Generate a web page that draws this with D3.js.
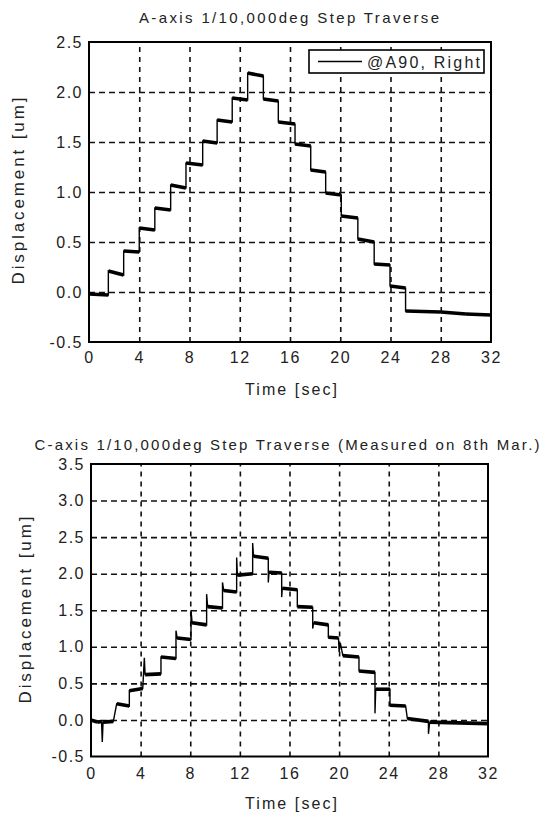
<!DOCTYPE html>
<html>
<head>
<meta charset="utf-8">
<script src="https://cdn.jsdelivr.net/npm/d3@7"></script>
<style>
  body { margin: 0; background: #fff; }
  text { font-family: "Liberation Sans", Arial, sans-serif; fill: #222; }
</style>
</head>
<body>
<div id="chart-area"></div>
<script>
// A-axis trace, corner points of the step curve (time [sec], displacement [um])
var timeA = [0, 1.54, 1.54, 2.76, 2.76, 4.0, 4.0, 5.24, 5.24, 6.5, 6.5, 7.72, 7.72, 9.05, 9.05,
    10.2, 10.2, 11.4, 11.4, 12.63, 12.63, 13.88, 13.88, 15.07, 15.07, 16.4, 16.4, 17.65, 17.65,
    18.84, 18.84, 20.08, 20.08, 21.4, 21.4, 22.7, 22.7, 23.96, 23.96, 25.2, 25.2, 28, 30, 32];
var dispA = [-0.02, -0.03, 0.21, 0.17, 0.41, 0.40, 0.64, 0.62, 0.84, 0.82, 1.07, 1.04, 1.29, 1.27, 1.51,
    1.49, 1.72, 1.70, 1.94, 1.92, 2.19, 2.16, 1.93, 1.91, 1.70, 1.68, 1.48, 1.46, 1.22,
    1.20, 0.99, 0.97, 0.76, 0.74, 0.53, 0.50, 0.28, 0.27, 0.06, 0.04, -0.19, -0.20, -0.22, -0.23];

// C-axis trace, with the spikes seen at the steps
var timeC = [0, 0.5, 0.85, 0.91, 0.97, 1.8, 2.07, 3.09, 3.09, 4.17, 4.2, 4.3, 4.36, 5.64, 5.64,
    6.85, 6.85, 6.95, 8.06, 8.06, 8.15, 9.32, 9.32, 9.4, 10.6, 10.6, 10.7, 11.74, 11.74, 11.8,
    13.03, 13.03, 13.1, 14.29, 14.29, 14.35, 15.37, 15.37, 15.42, 16.63, 16.63, 17.87, 17.87,
    17.95, 19.13, 19.13, 19.95, 20.0, 20.1, 20.3, 21.6, 21.6, 22.89, 22.89, 22.95, 24.1, 24.1,
    25.36, 25.5, 27.2, 27.2, 27.3, 32];
var dispC = [0.0, -0.03, -0.02, -0.30, -0.03, -0.02, 0.22, 0.19, 0.40, 0.43, 0.52, 0.85, 0.62, 0.63, 0.86,
    0.84, 1.22, 1.12, 1.10, 1.50, 1.33, 1.30, 1.72, 1.55, 1.53, 1.88, 1.77, 1.75, 2.22, 1.98,
    2.00, 2.42, 2.24, 2.21, 1.88, 2.02, 2.01, 1.68, 1.80, 1.78, 1.55, 1.54, 1.25,
    1.33, 1.30, 1.13, 1.12, 0.93, 1.05, 0.88, 0.86, 0.67, 0.65, 0.09, 0.42, 0.42, 0.20,
    0.19, 0.02, -0.02, -0.19, -0.03, -0.05];

var xTicks = [0, 4, 8, 12, 16, 20, 24, 28, 32];
var yTicksA = [-0.5, 0.0, 0.5, 1.0, 1.5, 2.0, 2.5];
var yTicksC = [-0.5, 0.0, 0.5, 1.0, 1.5, 2.0, 2.5, 3.0, 3.5];

var svg = d3.select('#chart-area').append('svg')
    .attr('width', 543)
    .attr('height', 816);

svg.append('rect')
    .attr('width', 543)
    .attr('height', 816)
    .attr('fill', '#fff');

drawPanel({
    left: 89, right: 491, top: 42, bottom: 342,
    yTicks: yTicksA, time: timeA, disp: dispA,
    title: 'A-axis 1/10,000deg Step Traverse', titleX: 289, titleY: 23, titleLen: 300,
    yLabelX: 24, yLabelY: 191, xLabelY: 395, xTickPad: 10,
    legend: '@A90, Right'
});

drawPanel({
    left: 91, right: 488, top: 464, bottom: 756.5,
    yTicks: yTicksC, time: timeC, disp: dispC,
    title: 'C-axis 1/10,000deg Step Traverse (Measured on 8th Mar.)', titleX: 287, titleY: 450, titleLen: 505,
    yLabelX: 31, yLabelY: 610, xLabelY: 809, xTickPad: 11,
    legend: null
});

function drawPanel(p) {
    var g = svg.append('g');

    var x = d3.scaleLinear()
        .domain([0, 32])
        .range([p.left, p.right]);

    var y = d3.scaleLinear()
        .domain([p.yTicks[0], p.yTicks[p.yTicks.length - 1]])
        .range([p.bottom, p.top]);

    // Grid lines (dashed), inner ticks only
    var xGrid = g.append('g')
        .attr('transform', 'translate(0,' + p.bottom + ')')
        .call(d3.axisBottom(x)
            .tickValues(xTicks.slice(1, -1))
            .tickSize(-(p.bottom - p.top))
            .tickFormat(''));
    xGrid.select('.domain').remove();
    xGrid.selectAll('line')
        .attr('stroke', '#111')
        .attr('stroke-width', 1.6)
        .attr('stroke-dasharray', '5,5');

    var yGrid = g.append('g')
        .attr('transform', 'translate(' + p.left + ',0)')
        .call(d3.axisLeft(y)
            .tickValues(p.yTicks.slice(1, -1))
            .tickSize(-(p.right - p.left))
            .tickFormat(''));
    yGrid.select('.domain').remove();
    yGrid.selectAll('line')
        .attr('stroke', '#111')
        .attr('stroke-width', 1.6)
        .attr('stroke-dasharray', '6,4');

    // Tick labels
    var xAxis = g.append('g')
        .attr('transform', 'translate(0,' + p.bottom + ')')
        .call(d3.axisBottom(x)
            .tickValues(xTicks)
            .tickSize(0)
            .tickPadding(p.xTickPad)
            .tickFormat(d => d));
    xAxis.select('.domain').remove();
    xAxis.selectAll('text')
        .attr('font-size', 16)
        .attr('fill', '#333')
        .attr('style', 'letter-spacing: 1.5px; font-family: "Liberation Sans", Arial, sans-serif');

    var yAxis = g.append('g')
        .attr('transform', 'translate(' + p.left + ',0)')
        .call(d3.axisLeft(y)
            .tickValues(p.yTicks)
            .tickSize(0)
            .tickPadding(6)
            .tickFormat(d => d.toFixed(1)));
    yAxis.select('.domain').remove();
    yAxis.selectAll('text')
        .attr('font-size', 16)
        .attr('fill', '#333')
        .attr('style', 'letter-spacing: 1.5px; font-family: "Liberation Sans", Arial, sans-serif');

    // Trace: thin line through all points, plateaus drawn heavier (noise band)
    var pts = p.time.map((t, i) => [t, p.disp[i]]);
    var line = d3.line()
        .x(d => x(d[0]))
        .y(d => y(d[1]));

    g.append('path')
        .datum(pts)
        .attr('d', line)
        .attr('fill', 'none')
        .attr('stroke', '#000')
        .attr('stroke-width', 1.4);

    var plateaus = [];
    for (var i = 0; i < pts.length - 1; i++) {
        if (pts[i + 1][0] - pts[i][0] > 0.3) plateaus.push([pts[i], pts[i + 1]]);
    }
    g.selectAll('.plateau').data(plateaus).enter().append('path')
        .attr('class', 'plateau')
        .attr('d', line)
        .attr('fill', 'none')
        .attr('stroke', '#000')
        .attr('stroke-width', 3.6);

    // Plot box
    g.append('rect')
        .attr('x', p.left)
        .attr('y', p.top)
        .attr('width', p.right - p.left)
        .attr('height', p.bottom - p.top)
        .attr('fill', 'none')
        .attr('stroke', '#000')
        .attr('stroke-width', 2);

    // Title
    g.append('text')
        .attr('x', p.titleX)
        .attr('y', p.titleY)
        .attr('text-anchor', 'middle')
        .attr('font-size', 15)
        .attr('textLength', p.titleLen)
        .attr('lengthAdjust', 'spacing')
        .text(p.title);

    // X Label
    g.append('text')
        .attr('x', 291)
        .attr('y', p.xLabelY)
        .attr('text-anchor', 'middle')
        .attr('font-size', 16)
        .attr('textLength', 92)
        .attr('lengthAdjust', 'spacing')
        .text('Time [sec]');

    // Y Label
    g.append('text')
        .attr('transform', 'translate(' + p.yLabelX + ',' + p.yLabelY + ') rotate(-90)')
        .attr('text-anchor', 'middle')
        .attr('font-size', 17)
        .attr('textLength', 187)
        .attr('lengthAdjust', 'spacing')
        .text('Displacement [um]');

    if (p.legend) {
        var lg = g.append('g');
        lg.append('rect')
            .attr('x', 309)
            .attr('y', 50)
            .attr('width', 175)
            .attr('height', 23)
            .attr('fill', '#fff')
            .attr('stroke', '#000')
            .attr('stroke-width', 1.6);
        lg.append('line')
            .attr('x1', 318)
            .attr('x2', 362)
            .attr('y1', 61.5)
            .attr('y2', 61.5)
            .attr('stroke', '#000')
            .attr('stroke-width', 1.4);
        lg.append('text')
            .attr('x', 367)
            .attr('y', 68)
            .attr('font-size', 16)
            .attr('textLength', 113)
            .attr('lengthAdjust', 'spacing')
            .text(p.legend);
    }
}
</script>
</body>
</html>
